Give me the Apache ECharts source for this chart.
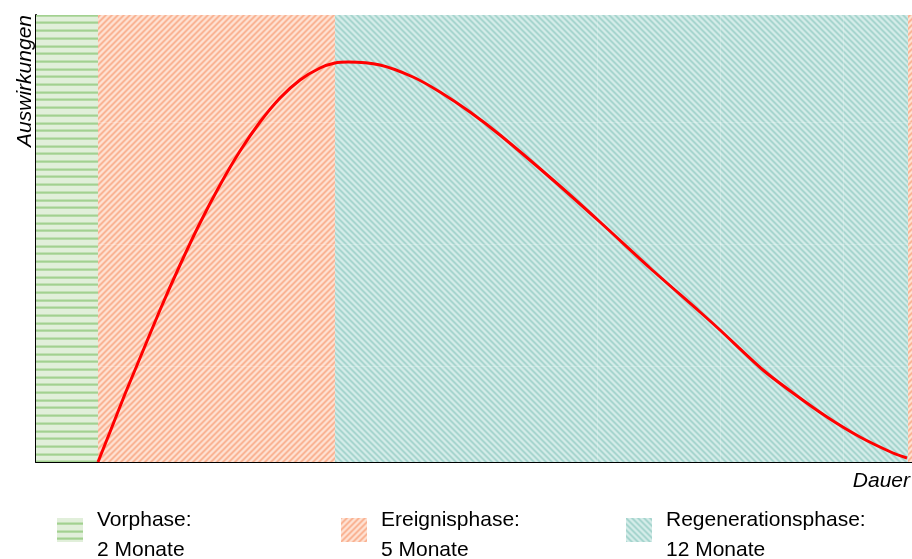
<!DOCTYPE html>
<html>
<head>
<meta charset="utf-8">
<script src="https://cdn.jsdelivr.net/npm/echarts@6/dist/echarts.min.js"></script>
<style>
html,body{margin:0;padding:0;background:#fff;}
#chart{width:912px;height:559px;}
</style>
</head>
<body>
<div id="chart"></div>
<script>
// ---- data (x: duration units, y: impact units) ----
const phaseNames = ['Vorphase:', 'Ereignisphase:', 'Regenerationsphase:'];
const phaseDurations = ['2 Monate', '5 Monate', '12 Monate'];
const phaseStart = [0, 62, 299];
const phaseEnd = [62, 299, 872];
const extraStart = 872, extraEnd = 876;   // small orange sliver at right edge
const curveX = [62, 74, 89, 104, 124, 144, 164, 184, 204, 224, 244, 264, 284, 299, 312,
                344, 377, 404, 434, 464, 517, 564, 614, 664, 684, 727, 757, 791, 824, 857, 871];
const curveY = [0, 30, 68, 104, 152, 197, 239, 277, 311, 340, 364, 382, 394, 399, 400,
                397, 385, 370, 350, 327, 282, 240, 194, 150, 132, 92, 69, 45, 25, 9, 4];
const gridLinesY = [96, 218, 340];
const gridLinesX = [561, 684, 807];
const xMax = 876, yMax = 447;

// ---- hatch patterns ----
function hex(c){return [parseInt(c.slice(1,3),16),parseInt(c.slice(3,5),16),parseInt(c.slice(5,7),16)];}
function makePattern(w,h,bg,fg,fn){
  const c=document.createElement('canvas'); c.width=w; c.height=h;
  const ctx=c.getContext('2d'); const img=ctx.createImageData(w,h);
  const B=hex(bg), F=hex(fg);
  for(let y=0;y<h;y++)for(let x=0;x<w;x++){
    const a=fn(x,y); const i=(y*w+x)*4;
    for(let k=0;k<3;k++) img.data[i+k]=Math.round(B[k]*(1-a)+F[k]*a);
    img.data[i+3]=255;
  }
  ctx.putImageData(img,0,0); return c;
}
const greenStripeRows = {};
for(let i=0;i<10;i++){ const s=Math.round(6+i*7.7)%77; greenStripeRows[s]=0.5; greenStripeRows[(s+1)%77]=1; greenStripeRows[(s+2)%77]=0.7; }
const greenCanvas = makePattern(4,77,'#e1efda','#a2d190',(x,y)=>greenStripeRows[y]||0);
const diagProfile=[1,0.7,0.2,0,0.2,0.7];
const orangeCanvas = makePattern(6,6,'#fee3d5','#f9b08f',(x,y)=>diagProfile[(x+y)%6]);
const tealCanvas = makePattern(6,6,'#d6edea','#a3d3cc',(x,y)=>diagProfile[((x-y)%6+6)%6]);
const pats = [
  {image: greenCanvas, repeat:'repeat'},
  {image: orangeCanvas, repeat:'repeat'},
  {image: tealCanvas, repeat:'repeat'}
];

const chart = echarts.init(document.getElementById('chart'), null, {renderer:'canvas'});

const areaData = phaseStart.map((s,i)=>[{xAxis:s,itemStyle:{color:pats[i]}},{xAxis:phaseEnd[i]}]);
areaData.push([{xAxis:extraStart,itemStyle:{color:pats[1]}},{xAxis:extraEnd}]);

const gridMarks = [];
gridLinesY.forEach(v=>gridMarks.push([{coord:[phaseStart[1],v]},{coord:[xMax,v]}]));
gridLinesX.forEach(v=>gridMarks.push([{coord:[v,0]},{coord:[v,yMax]}]));

const legendX = [57, 341, 626];
const graphics = [];
legendX.forEach((lx,i)=>{
  graphics.push({type:'rect', shape:{x:lx,y:518,width:26,height:24}, style:{fill:pats[i]}, silent:true});
  graphics.push({type:'text', x:lx+40, y:520.5, style:{text:phaseNames[i], font:'21px "Liberation Sans", Arial, sans-serif', fill:'#000', align:'left', verticalAlign:'middle'}});
  graphics.push({type:'text', x:lx+40, y:550.5, style:{text:phaseDurations[i], font:'21px "Liberation Sans", Arial, sans-serif', fill:'#000', align:'left', verticalAlign:'middle'}});
});
graphics.push({type:'text', x:910, y:481.5, style:{text:'Dauer', font:'italic 21px "Liberation Sans", Arial, sans-serif', fill:'#000', align:'right', verticalAlign:'middle'}});
graphics.push({type:'text', x:25, y:15, rotation:Math.PI/2, style:{text:'Auswirkungen', font:'italic 21px "Liberation Sans", Arial, sans-serif', fill:'#000', align:'right', verticalAlign:'middle'}});

chart.setOption({
  animation:false,
  backgroundColor:'#ffffff',
  grid:{left:36,right:0,top:15,bottom:97,containLabel:false},
  xAxis:{type:'value',min:0,max:xMax,
    axisLine:{show:true,onZero:false,lineStyle:{color:'#000',width:2}},
    axisTick:{show:false},axisLabel:{show:false},splitLine:{show:false}},
  yAxis:{type:'value',min:0,max:yMax,
    axisLine:{show:true,onZero:false,lineStyle:{color:'#000',width:2}},
    axisTick:{show:false},axisLabel:{show:false},splitLine:{show:false}},
  series:[
    {type:'line',name:'phases',data:[],z:1,silent:true,
     markArea:{silent:true,data:areaData},
     markLine:{silent:true,symbol:'none',label:{show:false},
       lineStyle:{color:'rgba(255,255,255,0.22)',width:1,type:'solid'},data:gridMarks}},
    {type:'line',name:'Auswirkungen',z:5,
     data:curveX.map((x,i)=>[x,curveY[i]]),
     smooth:0.25,showSymbol:false,symbol:'none',
     lineStyle:{color:'#ff0000',width:3}}
  ],
  graphic:graphics
});
</script>
</body>
</html>
